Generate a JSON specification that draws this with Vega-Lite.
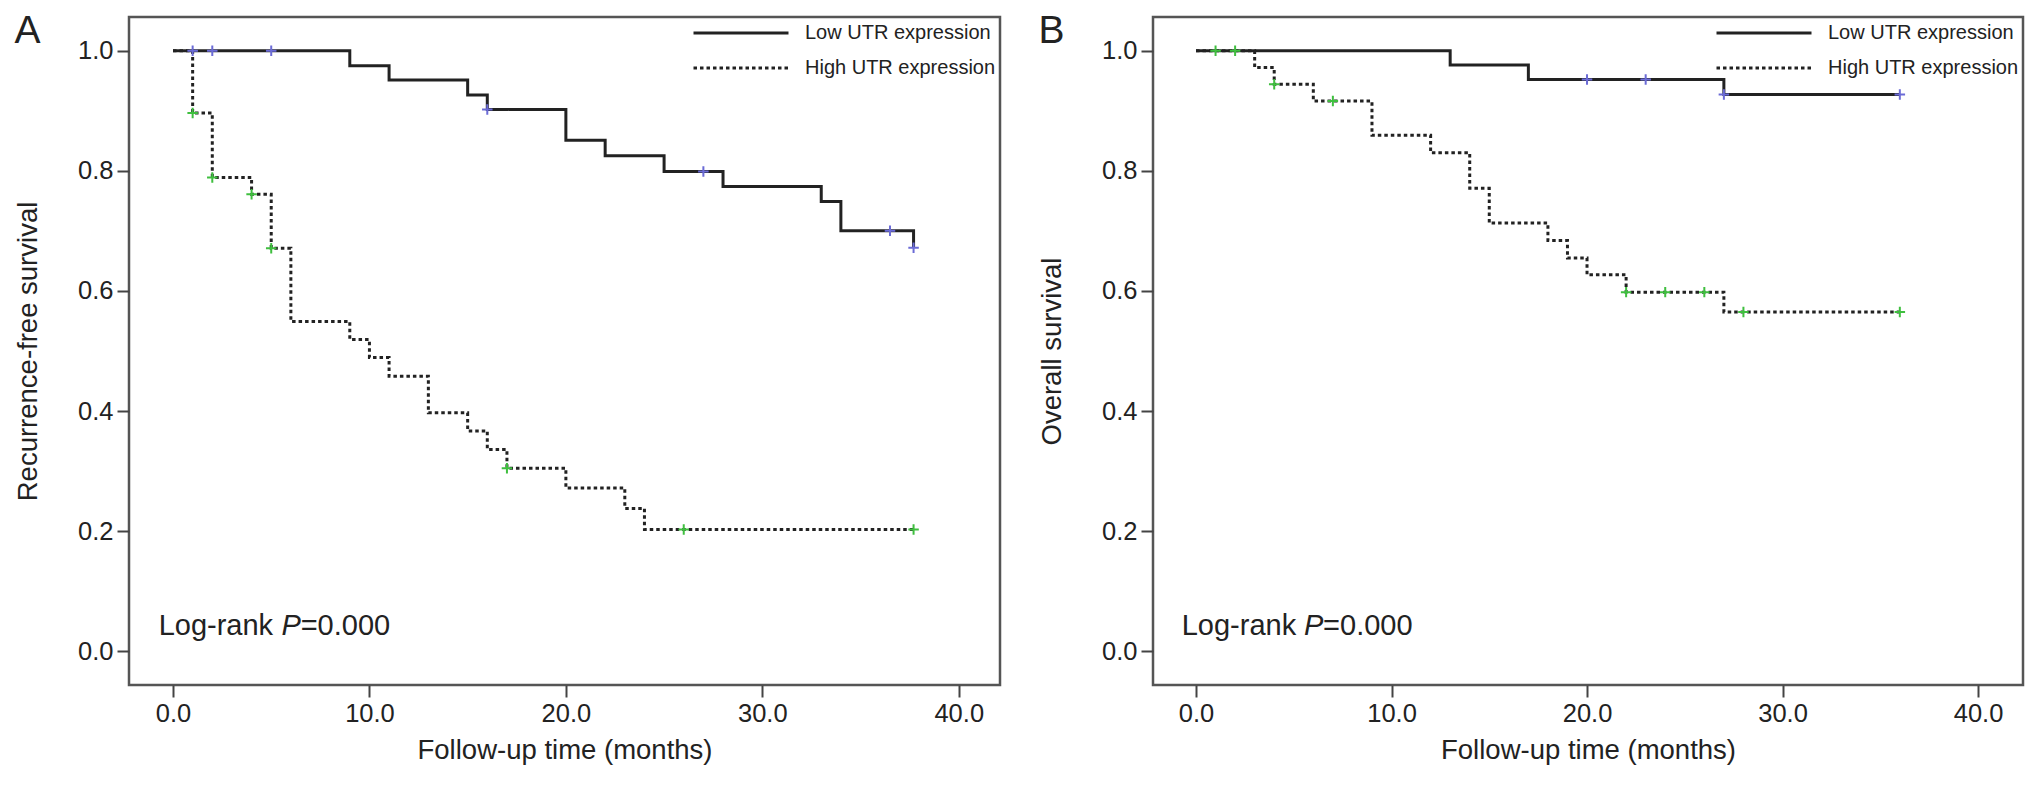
{
  "$schema": "https://vega.github.io/schema/vega-lite/v6.json",
  "padding": {"left": 13, "top": 10, "right": 5, "bottom": 5},
  "bounds": "flush",
  "spacing": 153,
  "background": "white",
  "config": {
    "font": "Liberation Sans",
    "view": {"stroke": "#555555", "strokeWidth": 2.5},
    "axis": {"domain": false, "grid": false, "tickColor": "#444444", "tickWidth": 2, "tickSize": 12,
             "labelFont": "Liberation Sans", "labelFontSize": 25.5, "labelColor": "#222222", "labelPadding": 4,
             "titleFont": "Liberation Sans", "titleFontSize": 27.5, "titleFontWeight": "normal", "titleColor": "#222222"},
    "axisX": {"titlePadding": 10},
    "axisY": {"titlePadding": 35},
    "title": {"font": "Liberation Sans", "fontSize": 39, "fontWeight": "normal", "color": "#222222"},
    "legend": {"orient": "top-right", "offset": 4, "padding": 0, "rowPadding": 11, "labelOffset": 15,
               "clipHeight": 24, "labelLimit": 0,
               "labelFont": "Liberation Sans", "labelFontSize": 20, "labelColor": "#222222",
               "symbolType": "stroke", "symbolSize": 9025, "symbolStrokeWidth": 3, "symbolStrokeColor": "#222222"}
  },
  "resolve": {"scale": {"strokeDash": "independent"}, "legend": {"strokeDash": "independent"}},
  "datasets": {
    "curveA": [
      {"group": "Low UTR expression", "t": 0, "s": 1},
      {"group": "Low UTR expression", "t": 9, "s": 0.975},
      {"group": "Low UTR expression", "t": 11, "s": 0.951},
      {"group": "Low UTR expression", "t": 15, "s": 0.926},
      {"group": "Low UTR expression", "t": 16, "s": 0.902},
      {"group": "Low UTR expression", "t": 20, "s": 0.851},
      {"group": "Low UTR expression", "t": 22, "s": 0.825},
      {"group": "Low UTR expression", "t": 25, "s": 0.799},
      {"group": "Low UTR expression", "t": 28, "s": 0.774},
      {"group": "Low UTR expression", "t": 33, "s": 0.749},
      {"group": "Low UTR expression", "t": 34, "s": 0.700},
      {"group": "Low UTR expression", "t": 37.7, "s": 0.672},
      {"group": "High UTR expression", "t": 0, "s": 1},
      {"group": "High UTR expression", "t": 1, "s": 0.896},
      {"group": "High UTR expression", "t": 2, "s": 0.789},
      {"group": "High UTR expression", "t": 4, "s": 0.761},
      {"group": "High UTR expression", "t": 5, "s": 0.671},
      {"group": "High UTR expression", "t": 6, "s": 0.549},
      {"group": "High UTR expression", "t": 9, "s": 0.519},
      {"group": "High UTR expression", "t": 10, "s": 0.489},
      {"group": "High UTR expression", "t": 11, "s": 0.458},
      {"group": "High UTR expression", "t": 13, "s": 0.397},
      {"group": "High UTR expression", "t": 15, "s": 0.367},
      {"group": "High UTR expression", "t": 16, "s": 0.336},
      {"group": "High UTR expression", "t": 17, "s": 0.305},
      {"group": "High UTR expression", "t": 20, "s": 0.272},
      {"group": "High UTR expression", "t": 23, "s": 0.238},
      {"group": "High UTR expression", "t": 24, "s": 0.203},
      {"group": "High UTR expression", "t": 37.7, "s": 0.203}
    ],
    "censorA": [
      {"group": "Low UTR expression", "t": 1, "s": 1},
      {"group": "Low UTR expression", "t": 2, "s": 1},
      {"group": "Low UTR expression", "t": 5, "s": 1},
      {"group": "Low UTR expression", "t": 16, "s": 0.902},
      {"group": "Low UTR expression", "t": 27, "s": 0.799},
      {"group": "Low UTR expression", "t": 36.5, "s": 0.700},
      {"group": "Low UTR expression", "t": 37.7, "s": 0.672},
      {"group": "High UTR expression", "t": 1, "s": 0.896},
      {"group": "High UTR expression", "t": 2, "s": 0.789},
      {"group": "High UTR expression", "t": 4, "s": 0.761},
      {"group": "High UTR expression", "t": 5, "s": 0.671},
      {"group": "High UTR expression", "t": 17, "s": 0.305},
      {"group": "High UTR expression", "t": 26, "s": 0.203},
      {"group": "High UTR expression", "t": 37.7, "s": 0.203}
    ],
    "curveB": [
      {"group": "Low UTR expression", "t": 0, "s": 1},
      {"group": "Low UTR expression", "t": 13, "s": 0.976},
      {"group": "Low UTR expression", "t": 17, "s": 0.952},
      {"group": "Low UTR expression", "t": 27, "s": 0.927},
      {"group": "Low UTR expression", "t": 36, "s": 0.927},
      {"group": "High UTR expression", "t": 0, "s": 1},
      {"group": "High UTR expression", "t": 3, "s": 0.972},
      {"group": "High UTR expression", "t": 4, "s": 0.944},
      {"group": "High UTR expression", "t": 6, "s": 0.916},
      {"group": "High UTR expression", "t": 9, "s": 0.859},
      {"group": "High UTR expression", "t": 12, "s": 0.830},
      {"group": "High UTR expression", "t": 14, "s": 0.771},
      {"group": "High UTR expression", "t": 15, "s": 0.713},
      {"group": "High UTR expression", "t": 18, "s": 0.684},
      {"group": "High UTR expression", "t": 19, "s": 0.655},
      {"group": "High UTR expression", "t": 20, "s": 0.627},
      {"group": "High UTR expression", "t": 22, "s": 0.598},
      {"group": "High UTR expression", "t": 27, "s": 0.565},
      {"group": "High UTR expression", "t": 36, "s": 0.565}
    ],
    "censorB": [
      {"group": "Low UTR expression", "t": 20, "s": 0.952},
      {"group": "Low UTR expression", "t": 23, "s": 0.952},
      {"group": "Low UTR expression", "t": 27, "s": 0.927},
      {"group": "Low UTR expression", "t": 36, "s": 0.927},
      {"group": "High UTR expression", "t": 1, "s": 1},
      {"group": "High UTR expression", "t": 2, "s": 1},
      {"group": "High UTR expression", "t": 4, "s": 0.944},
      {"group": "High UTR expression", "t": 7, "s": 0.916},
      {"group": "High UTR expression", "t": 22, "s": 0.598},
      {"group": "High UTR expression", "t": 24, "s": 0.598},
      {"group": "High UTR expression", "t": 26, "s": 0.598},
      {"group": "High UTR expression", "t": 28, "s": 0.565},
      {"group": "High UTR expression", "t": 36, "s": 0.565}
    ]
  },
  "hconcat": [
    {
      "title": {"text": "A", "anchor": "start", "frame": "bounds", "orient": "top", "offset": -34},
      "width": 871,
      "height": 668,
      "layer": [
        {
          "data": {"name": "curveA"},
          "mark": {"type": "line", "interpolate": "step-after", "strokeWidth": 3, "color": "#222222", "strokeCap": "butt"},
          "encoding": {
            "x": {"field": "t", "type": "quantitative",
                  "scale": {"domain": [-2.24, 42.1], "nice": false, "zero": false},
                  "axis": {"values": [0, 10, 20, 30, 40], "format": ".1f", "title": "Follow-up time (months)"}},
            "y": {"field": "s", "type": "quantitative",
                  "scale": {"domain": [-0.056, 1.056], "nice": false, "zero": false},
                  "axis": {"values": [0, 0.2, 0.4, 0.6, 0.8, 1.0], "format": ".1f", "title": "Recurrence-free survival"}},
            "strokeDash": {"field": "group", "type": "nominal",
                           "scale": {"domain": ["Low UTR expression", "High UTR expression"], "range": [[1, 0], [3.5, 3]]},
                           "legend": {"title": null}}
          }
        },
        {
          "data": {"name": "censorA"},
          "mark": {"type": "point", "shape": "M-1,0H1M0,-1V1", "filled": false, "strokeWidth": 2, "size": 110, "opacity": 1},
          "encoding": {
            "x": {"field": "t", "type": "quantitative"},
            "y": {"field": "s", "type": "quantitative"},
            "color": {"condition": {"test": "datum.group === 'Low UTR expression'", "value": "#6b6bd6"}, "value": "#3fbf3f"}
          }
        },
        {
          "data": {"values": [{}]},
          "mark": {"type": "text", "align": "left", "baseline": "middle", "fontSize": 29, "color": "#222222"},
          "encoding": {"x": {"datum": -0.73}, "y": {"datum": 0.043}, "text": {"value": "Log-rank "}}
        },
        {
          "data": {"values": [{}]},
          "mark": {"type": "text", "align": "left", "baseline": "middle", "fontSize": 29, "fontStyle": "italic", "color": "#222222"},
          "encoding": {"x": {"datum": 5.52}, "y": {"datum": 0.043}, "text": {"value": "P"}}
        },
        {
          "data": {"values": [{}]},
          "mark": {"type": "text", "align": "left", "baseline": "middle", "fontSize": 29, "color": "#222222"},
          "encoding": {"x": {"datum": 6.5}, "y": {"datum": 0.043}, "text": {"value": "=0.000"}}
        }
      ]
    },
    {
      "title": {"text": "B", "anchor": "start", "frame": "bounds", "orient": "top", "offset": -34},
      "width": 870,
      "height": 668,
      "layer": [
        {
          "data": {"name": "curveB"},
          "mark": {"type": "line", "interpolate": "step-after", "strokeWidth": 3, "color": "#222222", "strokeCap": "butt"},
          "encoding": {
            "x": {"field": "t", "type": "quantitative",
                  "scale": {"domain": [-2.2, 42.3], "nice": false, "zero": false},
                  "axis": {"values": [0, 10, 20, 30, 40], "format": ".1f", "title": "Follow-up time (months)"}},
            "y": {"field": "s", "type": "quantitative",
                  "scale": {"domain": [-0.056, 1.056], "nice": false, "zero": false},
                  "axis": {"values": [0, 0.2, 0.4, 0.6, 0.8, 1.0], "format": ".1f", "title": "Overall survival"}},
            "strokeDash": {"field": "group", "type": "nominal",
                           "scale": {"domain": ["Low UTR expression", "High UTR expression"], "range": [[1, 0], [3.5, 3]]},
                           "legend": {"title": null}}
          }
        },
        {
          "data": {"name": "censorB"},
          "mark": {"type": "point", "shape": "M-1,0H1M0,-1V1", "filled": false, "strokeWidth": 2, "size": 110, "opacity": 1},
          "encoding": {
            "x": {"field": "t", "type": "quantitative"},
            "y": {"field": "s", "type": "quantitative"},
            "color": {"condition": {"test": "datum.group === 'Low UTR expression'", "value": "#6b6bd6"}, "value": "#3fbf3f"}
          }
        },
        {
          "data": {"values": [{}]},
          "mark": {"type": "text", "align": "left", "baseline": "middle", "fontSize": 29, "color": "#222222"},
          "encoding": {"x": {"datum": -0.73}, "y": {"datum": 0.043}, "text": {"value": "Log-rank "}}
        },
        {
          "data": {"values": [{}]},
          "mark": {"type": "text", "align": "left", "baseline": "middle", "fontSize": 29, "fontStyle": "italic", "color": "#222222"},
          "encoding": {"x": {"datum": 5.52}, "y": {"datum": 0.043}, "text": {"value": "P"}}
        },
        {
          "data": {"values": [{}]},
          "mark": {"type": "text", "align": "left", "baseline": "middle", "fontSize": 29, "color": "#222222"},
          "encoding": {"x": {"datum": 6.5}, "y": {"datum": 0.043}, "text": {"value": "=0.000"}}
        }
      ]
    }
  ]
}
